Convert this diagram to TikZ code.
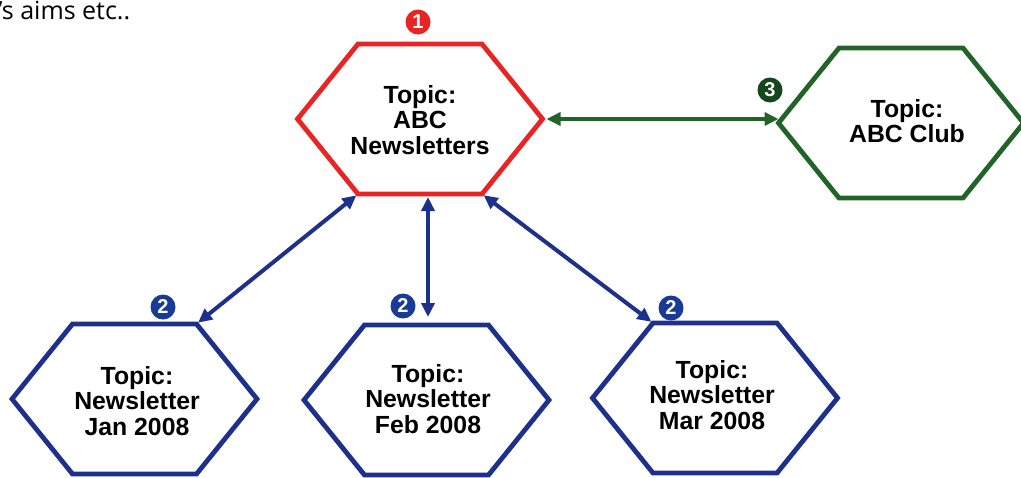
\documentclass[tikz,border=0pt]{standalone}
\usepackage{fontspec}
\setmainfont{Liberation Sans}
\newfontfamily\handfont{Open Sans}
\usetikzlibrary{arrows.meta}
\definecolor{hexred}{RGB}{232,36,36}
\definecolor{hexgreen}{RGB}{34,100,40}
\definecolor{badgegreen}{RGB}{22,70,28}
\definecolor{hexblue}{RGB}{28,48,140}
\definecolor{badgeblue}{RGB}{24,60,150}
\newcommand{\hexnode}[4]{%
 \coordinate (#1-l) at ({#2-122.5},#3);
 \coordinate (#1-tl) at ({#2-62},{#3-75});
 \coordinate (#1-tr) at ({#2+62},{#3-75});
 \coordinate (#1-r) at ({#2+122.5},#3);
 \coordinate (#1-br) at ({#2+62},{#3+75});
 \coordinate (#1-bl) at ({#2-62},{#3+75});
 \draw[hexline,#4] (#1-l) -- (#1-tl) -- (#1-tr) -- (#1-r) -- (#1-br) -- (#1-bl) -- cycle;
}
\begin{document}
\begin{tikzpicture}[x=0.5pt,y=-0.5pt,
 hexline/.style={line width=2.4pt, line join=miter},
 hexlabel/.style={font=\bfseries\fontsize{12.4}{12.6}\selectfont, align=center, inner sep=0pt},
 badge/.style={circle, inner sep=0pt, minimum size=12.5pt, text=white, font=\bfseries\fontsize{10}{10}\selectfont},
 link/.style={line width=2pt, {Triangle[length=7pt,width=6.5pt]}-{Triangle[length=7pt,width=6.5pt]}},
]
\useasboundingbox (0,0) rectangle (1021,477);

\node[anchor=base west, inner sep=0pt, font=\handfont\fontsize{12.5}{14}\selectfont] (note) at (-2,19) {’s aims etc..};

\hexnode{red}{420}{119}{draw=hexred}
\hexnode{green}{901}{123}{draw=hexgreen}
\hexnode{jan}{134.5}{399}{draw=hexblue}
\hexnode{feb}{426.5}{400}{draw=hexblue}
\hexnode{mar}{715}{398}{draw=hexblue}

\node[hexlabel] (redtext) at (420,120) {Topic:\\ABC\\Newsletters};
\node[hexlabel] (greentext) at (907,121) {Topic:\\ABC Club};
\node[hexlabel] (jantext) at (137,401) {Topic:\\Newsletter\\Jan 2008};
\node[hexlabel] (febtext) at (428,399) {Topic:\\Newsletter\\Feb 2008};
\node[hexlabel] (martext) at (712,395) {Topic:\\Newsletter\\Mar 2008};

\coordinate (red-b) at (428,194);
\coordinate (feb-t) at (428,325);

\draw[link, hexgreen, shorten <=2pt] (red-r) -- (red-r -| green-l);
\draw[link, hexblue, shorten <=1pt, shorten >=1pt] (red-bl) -- (jan-tr);
\draw[link, hexblue, shorten <=1.5pt, shorten >=4pt] (red-b) -- (feb-t);
\draw[link, hexblue, shorten <=1pt, shorten >=1pt] (red-br) -- (mar-tl);

\node[badge, fill=hexred] (b1) at (418,22) {1};
\node[badge, fill=badgegreen] (b3) at (770,90) {3};
\node[badge, fill=badgeblue] (b2a) at (163,307) {2};
\node[badge, fill=badgeblue] (b2b) at (403,306) {2};
\node[badge, fill=badgeblue] (b2c) at (671,308) {2};
\end{tikzpicture}
\end{document}
